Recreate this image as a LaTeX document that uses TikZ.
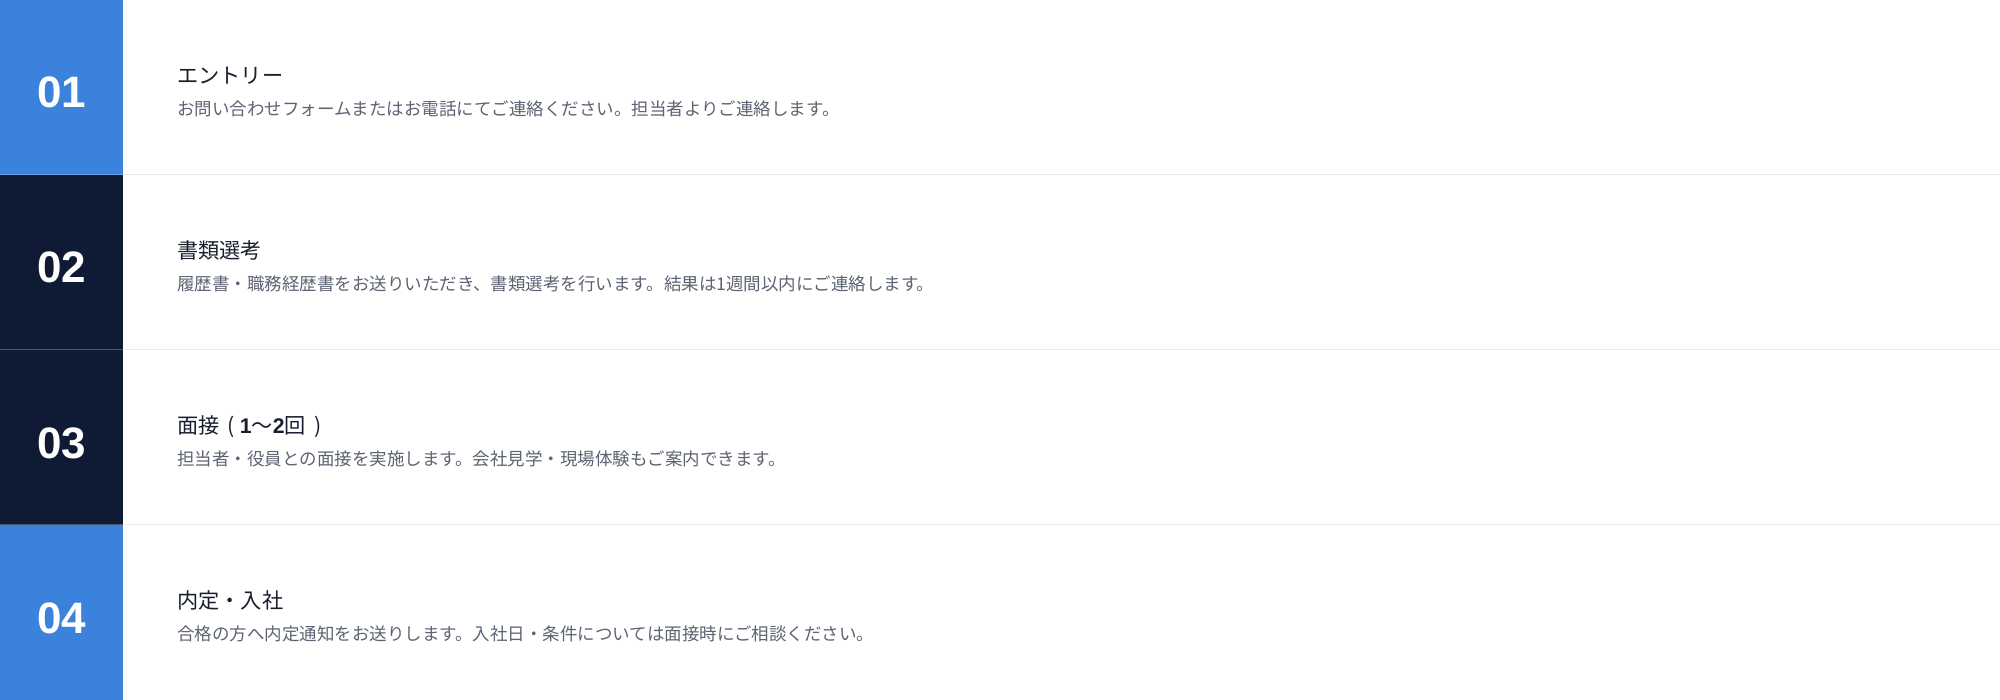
\documentclass[tikz,border=0pt]{standalone}
\usepackage{fontspec}
\newfontfamily\jp{Noto Sans CJK JP}
\newfontfamily\num{Liberation Sans}
\definecolor{stepblue}{RGB}{58,130,219}
\definecolor{stepnavy}{RGB}{15,27,53}
\definecolor{titlecol}{RGB}{24,30,46}
\definecolor{desccol}{RGB}{92,99,115}
\definecolor{divcol}{RGB}{236,236,236}
\tikzset{
  numbox/.style={inner sep=0pt, text=white, font=\num\bfseries\fontsize{44}{44}\selectfont, anchor=base},
  titletext/.style={inner sep=0pt, anchor=base west, text=titlecol, font=\jp\fontsize{21.2}{21.2}\selectfont},
  desctext/.style={inner sep=0pt, anchor=base west, text=desccol, font=\jp\fontsize{17.5}{17.5}\selectfont},
  divider/.style={draw=divcol, line width=1.2pt},
}
\begin{document}
\begin{tikzpicture}[x=1pt,y=-1pt]
\useasboundingbox (0,0) rectangle (2000,700);
\fill[white] (0,0) rectangle (2000,700);
% boxes
\fill[stepblue] (0,0) rectangle (123,175);
\fill[stepnavy] (0,175) rectangle (123,350);
\fill[stepnavy] (0,350) rectangle (123,525);
\fill[stepblue] (0,525) rectangle (123,700);
% dividers
\foreach \yy in {174.5,349.5,524.5} {
  \draw[divider] (123,\yy) -- (2000,\yy);
  \draw[white, opacity=0.25, line width=1.2pt] (0,\yy) -- (123,\yy);
}
% numbers
\node[numbox] (n1) at (61.5,108) {01};
\node[numbox] (n2) at (61.5,283) {02};
\node[numbox] (n3) at (61.5,458) {03};
\node[numbox] (n4) at (61.5,633) {04};
% titles
\node[titletext] (t1) at (177,83.5) {エントリー};
\node[titletext] (t2) at (177,258.5) {書類選考};
\node[titletext] (t3) at (177,433.5) {面接\hspace{8pt}(\hspace{5pt}{\num\bfseries 1}〜{\num\bfseries 2}回\hspace{9pt})};
\node[titletext] (t4) at (177,608.5) {内定・入社};
% descriptions
\node[desctext] (d1) at (177,115.5) {お問い合わせフォームまたはお電話にてご連絡ください。担当者よりご連絡します。};
\node[desctext] (d2) at (177,290.5) {履歴書・職務経歴書をお送りいただき、書類選考を行います。結果は1週間以内にご連絡します。};
\node[desctext] (d3) at (177,465.5) {担当者・役員との面接を実施します。会社見学・現場体験もご案内できます。};
\node[desctext] (d4) at (177,640.5) {合格の方へ内定通知をお送りします。入社日・条件については面接時にご相談ください。};
\end{tikzpicture}
\end{document}
